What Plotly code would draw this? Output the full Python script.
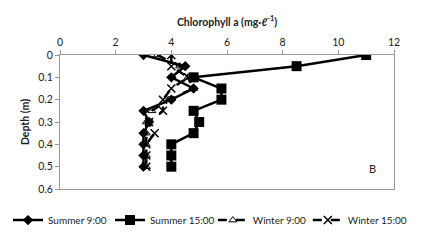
import plotly.graph_objects as go

depth = [0, 0.05, 0.1, 0.15, 0.2, 0.25, 0.3, 0.35, 0.4, 0.45, 0.5]
summer_9 = [3.0, 4.5, 4.0, 4.8, 4.0, 3.0, 3.2, 3.0, 3.0, 3.0, 3.0]
summer_15 = [11.0, 8.5, 4.8, 5.8, 5.8, 4.8, 5.0, 4.8, 4.0, 4.0, 4.0]
winter_9 = [3.5, 4.3, 4.6, 4.8, 3.9, 3.3, 3.1, 3.1, 3.1, 3.1, 3.1]
winter_15 = [4.0, 4.0, 4.6, 4.0, 3.7, 3.7, 3.2, 3.4, 3.1, 3.1, 3.1]

x_ticks = [0, 2, 4, 6, 8, 10, 12]
y_ticks = [0, 0.1, 0.2, 0.3, 0.4, 0.5, 0.6]

FONT = "Lato"
fig = go.Figure()
fig.add_trace(go.Scatter(x=summer_9, y=depth, name="Summer 9:00", mode="lines+markers",
                         line=dict(color="black", width=2.5), legend="legend",
                         marker=dict(symbol="diamond", size=8, color="black")))
fig.add_trace(go.Scatter(x=summer_15, y=depth, name="Summer 15:00", mode="lines+markers",
                         line=dict(color="black", width=2.5), legend="legend2",
                         marker=dict(symbol="square", size=10, color="black")))
fig.add_trace(go.Scatter(x=winter_9, y=depth, name="Winter 9:00", mode="lines+markers",
                         line=dict(color="black", width=2.5, dash="dash"), legend="legend3",
                         marker=dict(symbol="triangle-up-open", size=7, color="black", line=dict(width=1))))
fig.add_trace(go.Scatter(x=winter_15, y=depth, name="Winter 15:00", mode="lines+markers",
                         line=dict(color="black", width=2.5, dash="dash"), legend="legend4",
                         marker=dict(symbol="x-thin-open", size=8, color="black", line=dict(width=1.5))))

fig.add_annotation(text="B", x=0.952, y=0.09, xref="paper", yref="paper", showarrow=False,
                   font=dict(size=11, color="#222", family=FONT))

leg_common = dict(orientation="h", xref="container", yref="container", xanchor="left",
                  y=0.12, yanchor="middle", font=dict(size=10), tracegroupgap=0,
                  bgcolor="rgba(0,0,0,0)")

fig.update_layout(
    width=413, height=241,
    margin=dict(l=52, r=27, t=47, b=60, autoexpand=False),
    paper_bgcolor="white", plot_bgcolor="white",
    font=dict(family=FONT, size=10.5, color="#222"),
    title=dict(text="<b>Chlorophyll a (mg·ℓ<sup>-1</sup>)</b>", x=0.5, xanchor="center",
               xref="paper", y=0.942, yanchor="middle", font=dict(size=10.5, family=FONT, color="#222")),
    xaxis=dict(side="top", range=[0, 12], tickvals=x_ticks, showgrid=False, zeroline=False,
               showline=True, linecolor="#999", linewidth=1, mirror=True, automargin=False,
               ticks="outside", ticklen=4, tickcolor="#999", tickfont=dict(size=10.5)),
    yaxis=dict(range=[0.6, 0], tickvals=y_ticks, showgrid=False, zeroline=False,
               showline=True, linecolor="#999", linewidth=1, mirror=True, automargin=False,
               ticks="outside", ticklen=4, tickcolor="#999", tickfont=dict(size=10.5),
               title=dict(text="<b>Depth (m)</b>", font=dict(size=10.5), standoff=6)),
    legend=dict(x=0.0, **leg_common),
    legend2=dict(x=0.247, **leg_common),
    legend3=dict(x=0.496, **leg_common),
    legend4=dict(x=0.726, **leg_common),
    showlegend=True,
)
fig.write_html("out.html")
